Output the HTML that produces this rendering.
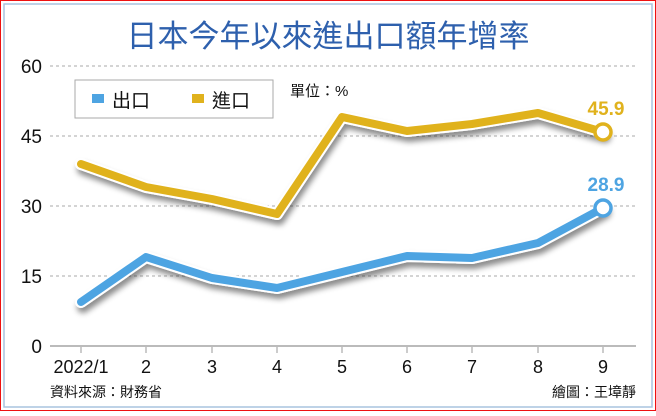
<!DOCTYPE html><html><head><meta charset="utf-8"><style>
body{margin:0;width:656px;height:411px;overflow:hidden;background:#fff}
text{font-family:"Liberation Sans","Noto Sans CJK TC",sans-serif}
</style></head><body>
<svg width="656" height="411" viewBox="0 0 656 411">
<defs><filter id="sh" x="-10%" y="-20%" width="130%" height="160%"><feDropShadow dx="2" dy="5" stdDeviation="3" flood-color="#000" flood-opacity="0.45"/></filter></defs>
<rect x="0.5" y="0.5" width="655" height="410" fill="#fff" stroke="#e11" stroke-width="1"/>
<rect x="4" y="4" width="648" height="403" fill="none" stroke="#a9c4df" stroke-width="1.5"/>
<text x="328" y="47" text-anchor="middle" font-size="31" fill="#2e60ad" font-family="Noto Sans CJK TC,sans-serif">日本今年以來進出口額年增率</text>
<g stroke="#aaa" stroke-dasharray="3,3" stroke-width="1">
<line x1="50" y1="66" x2="636" y2="66"/><line x1="50" y1="136" x2="636" y2="136"/><line x1="50" y1="206" x2="636" y2="206"/><line x1="50" y1="276" x2="636" y2="276"/></g>
<line x1="50" y1="346" x2="636" y2="346" stroke="#bbb" stroke-width="2"/>
<g stroke="#bbb" stroke-width="1.5">
<line x1="81" y1="346" x2="81" y2="353"/><line x1="146" y1="346" x2="146" y2="353"/><line x1="212" y1="346" x2="212" y2="353"/><line x1="277" y1="346" x2="277" y2="353"/><line x1="342" y1="346" x2="342" y2="353"/><line x1="407" y1="346" x2="407" y2="353"/><line x1="472" y1="346" x2="472" y2="353"/><line x1="538" y1="346" x2="538" y2="353"/><line x1="603" y1="346" x2="603" y2="353"/></g>
<g font-size="19" fill="#111" text-anchor="end">
<text x="42" y="73">60</text><text x="42" y="143">45</text><text x="42" y="213">30</text><text x="42" y="283">15</text><text x="42" y="353">0</text></g>
<g font-size="18" fill="#111" text-anchor="middle">
<text x="81" y="373">2022/1</text><text x="146" y="373">2</text><text x="212" y="373">3</text><text x="277" y="373">4</text><text x="342" y="373">5</text><text x="407" y="373">6</text><text x="472" y="373">7</text><text x="538" y="373">8</text><text x="603" y="373">9</text></g>
<rect x="75" y="80" width="198" height="38" fill="#fff" stroke="#aaa"/>
<rect x="92" y="94" width="12" height="9" fill="#4ea4e2"/>
<text x="112" y="107" font-size="19" fill="#111">出口</text>
<rect x="192" y="94" width="12" height="9" fill="#e0b21d"/>
<text x="212" y="107" font-size="19" fill="#111">進口</text>
<text x="290" y="96" font-size="15" fill="#111">單位：%</text>
<g filter="url(#sh)" fill="none" stroke-linejoin="round" stroke-linecap="round">
<polyline points="81,164 146,187 212,199 277,214 342,117 407,131 472,124 538,113 603,132" stroke="#fff" stroke-width="12"/>
<polyline points="81,164 146,187 212,199 277,214 342,117 407,131 472,124 538,113 603,132" stroke="#e0b21d" stroke-width="8"/>
<polyline points="81,302 146,257 212,278 277,288 342,272 407,256 472,258 538,243 603,208" stroke="#fff" stroke-width="12"/>
<polyline points="81,302 146,257 212,278 277,288 342,272 407,256 472,258 538,243 603,208" stroke="#4ea4e2" stroke-width="8"/>
</g>
<circle cx="603" cy="132" r="8" fill="#fff" stroke="#e0b21d" stroke-width="3.5"/>
<circle cx="603" cy="208" r="8" fill="#fff" stroke="#4ea4e2" stroke-width="3.5"/>
<text x="606" y="115" font-size="19" font-weight="bold" fill="#e0b21d" text-anchor="middle">45.9</text>
<text x="606" y="191" font-size="19" font-weight="bold" fill="#4ea4e2" text-anchor="middle">28.9</text>
<text x="50" y="397" font-size="14" fill="#111">資料來源：財務省</text>
<text x="636" y="397" font-size="14" fill="#111" text-anchor="end">繪圖：王墇靜</text>
</svg></body></html>
